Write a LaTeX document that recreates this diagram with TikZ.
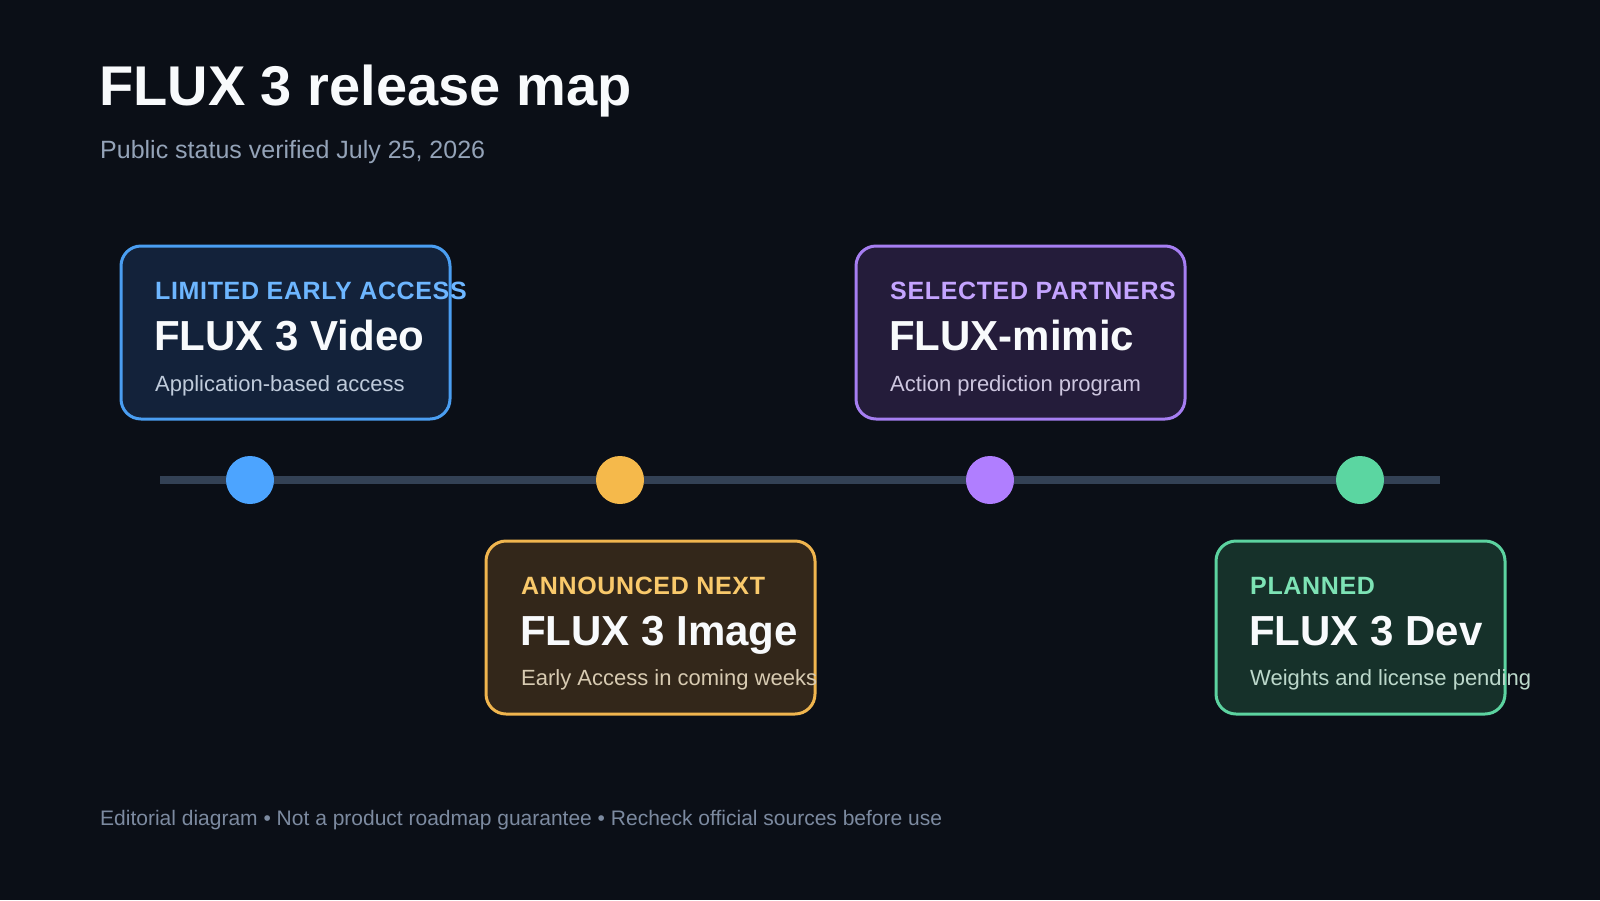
\documentclass[tikz,border=0pt]{standalone}
\usepackage{fontspec}
\setmainfont{Liberation Sans}
\newfontfamily\lblfont[LetterSpace=2.6]{Liberation Sans}
\definecolor{bg}{HTML}{0B0F17}
\definecolor{titlec}{HTML}{F8FAFC}
\definecolor{subc}{HTML}{94A3B8}
\definecolor{footc}{HTML}{7C8AA0}
\definecolor{trackc}{HTML}{334155}
\definecolor{bluedot}{HTML}{4CA4FF}
\definecolor{blueline}{HTML}{4A9EF2}
\definecolor{bluelbl}{HTML}{6DB6FF}
\definecolor{bluefill}{HTML}{13223A}
\definecolor{bluedesc}{HTML}{BFCBDB}
\definecolor{yeldot}{HTML}{F5B94B}
\definecolor{yelline}{HTML}{F0B54E}
\definecolor{yellbl}{HTML}{F9C96B}
\definecolor{yelfill}{HTML}{33271A}
\definecolor{yeldesc}{HTML}{D8CBB2}
\definecolor{purdot}{HTML}{B07EFF}
\definecolor{purline}{HTML}{A67EF2}
\definecolor{purlbl}{HTML}{C4A4FF}
\definecolor{purfill}{HTML}{241C3A}
\definecolor{purdesc}{HTML}{CDC6DF}
\definecolor{grndot}{HTML}{5BD6A1}
\definecolor{grnline}{HTML}{5CD3A0}
\definecolor{grnlbl}{HTML}{7DE3B5}
\definecolor{grnfill}{HTML}{16312A}
\definecolor{grndesc}{HTML}{BCD8CB}
\tikzset{
  card/.style={rounded corners=20pt, line width=3pt, anchor=north west, inner sep=0pt, outer sep=0pt},
  lbl/.style={anchor=base west, inner sep=0pt, font=\lblfont\bfseries\fontsize{25}{29}\selectfont},
  ttl/.style={anchor=base west, inner sep=0pt, text=titlec, font=\bfseries\fontsize{42}{46}\selectfont},
  dsc/.style={anchor=base west, inner sep=0pt, font=\fontsize{22}{26}\selectfont},
  dot/.style={circle, minimum size=48pt, inner sep=0pt}
}
\begin{document}
\begin{tikzpicture}[x=1pt,y=-1pt]
\fill[bg] (0,0) rectangle (1600,900);
\useasboundingbox (0,0) rectangle (1600,900);
% heading
\node[anchor=base west, inner sep=0pt, text=titlec, font=\bfseries\fontsize{56}{60}\selectfont] (title) at (99,105) {FLUX 3 release map};
\node[anchor=base west, inner sep=0pt, text=subc, font=\fontsize{25}{29}\selectfont] (subtitle) at (100,158) {Public status verified July 25, 2026};
% timeline
\coordinate (tl) at (160,480);
\coordinate (tr) at (1440,480);
\draw[trackc, line width=8pt] (tl) -- (tr);
\node[dot, fill=bluedot] (d1) at (250,480) {};
\node[dot, fill=yeldot] (d2) at (620,480) {};
\node[dot, fill=purdot] (d3) at (990,480) {};
\node[dot, fill=grndot] (d4) at (1360,480) {};
% cards
\node[card, draw=blueline, fill=bluefill, minimum width=329pt, minimum height=173pt] (c1) at (121,246) {};
\node[lbl, text=bluelbl] (c1l) at (155,299) {LIMITED EARLY ACCESS};
\node[ttl] (c1t) at (154,350) {FLUX 3 Video};
\node[dsc, text=bluedesc] (c1d) at (155,391) {Application-based access};

\node[card, draw=yelline, fill=yelfill, minimum width=329pt, minimum height=173pt] (c2) at (486,541) {};
\node[lbl, text=yellbl] (c2l) at (521,594) {ANNOUNCED NEXT};
\node[ttl] (c2t) at (520,645) {FLUX 3 Image};
\node[dsc, text=yeldesc] (c2d) at (521,685) {Early Access in coming weeks};

\node[card, draw=purline, fill=purfill, minimum width=329pt, minimum height=173pt] (c3) at (856,246) {};
\node[lbl, text=purlbl] (c3l) at (890,299) {SELECTED PARTNERS};
\node[ttl] (c3t) at (889,350) {FLUX-mimic};
\node[dsc, text=purdesc] (c3d) at (890,391) {Action prediction program};

\node[card, draw=grnline, fill=grnfill, minimum width=289pt, minimum height=173pt] (c4) at (1216,541) {};
\node[lbl, text=grnlbl] (c4l) at (1250,594) {PLANNED};
\node[ttl] (c4t) at (1249,645) {FLUX 3 Dev};
\node[dsc, text=grndesc] (c4d) at (1250,685) {Weights and license pending};
% footer
\node[anchor=base west, inner sep=0pt, text=footc, font=\fontsize{21}{25}\selectfont] (foot) at (100,825) {Editorial diagram • Not a product roadmap guarantee • Recheck official sources before use};
\end{tikzpicture}
\end{document}
